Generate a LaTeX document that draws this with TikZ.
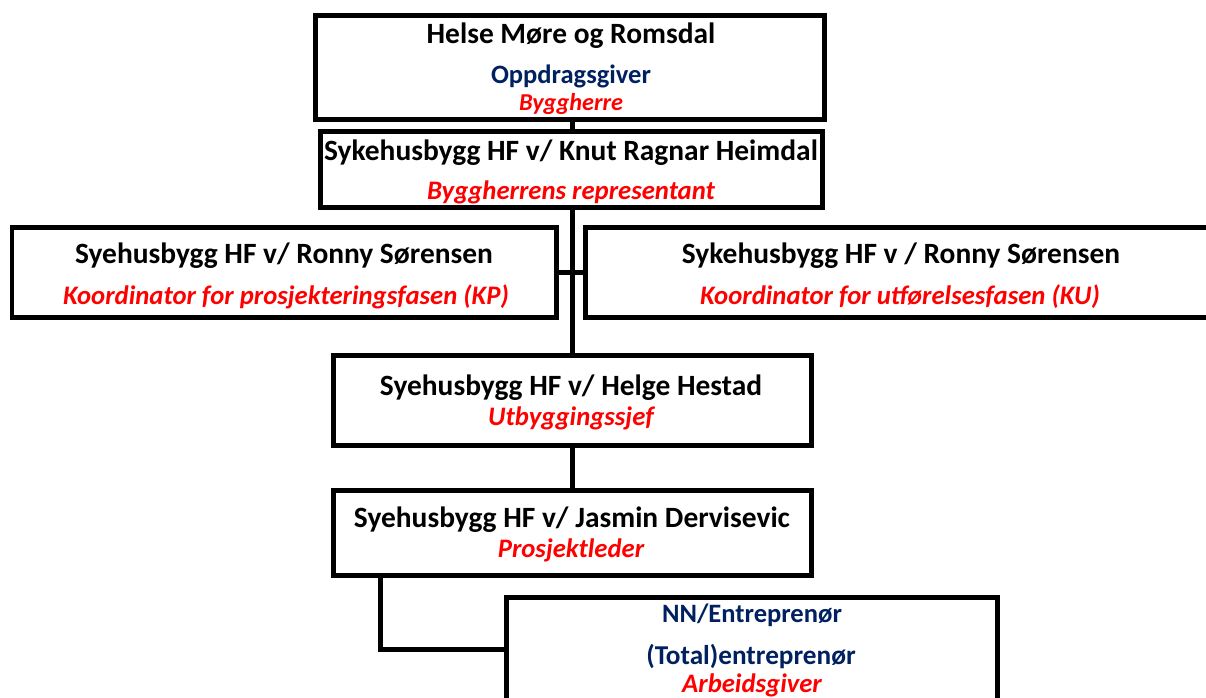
\documentclass[tikz,border=0pt]{standalone}
\usepackage{fontspec}
\setmainfont{Carlito}
\begin{document}
\begin{tikzpicture}[x=0.02cm,y=-0.02cm]
    % Define colors
    \definecolor{navytext}{RGB}{0,32,96}
    \definecolor{roletext}{RGB}{255,0,0}

    % Styles
    \tikzset{
        orgbox/.style 2 args={draw, line width=0.1cm, minimum width={#1*0.02cm}, minimum height={#2*0.02cm}, inner sep=0pt, outer sep=0pt},
        who/.style={font=\bfseries\fontsize{16.75}{16.75}\selectfont, anchor=base, inner sep=0pt},
        client/.style={font=\bfseries\fontsize{15.1}{15.1}\selectfont, text=navytext, anchor=base, inner sep=0pt},
        role/.style={font=\bfseries\itshape\fontsize{15.2}{15.2}\selectfont, text=roletext, anchor=base, inner sep=0pt},
        link/.style={line width=0.1cm}
    }

    \useasboundingbox (0,0) rectangle (1206,697);

    % Boxes
    \node[orgbox={509}{104}] (owner) at (569.5,67) {};
    \node[orgbox={502}{76}] (rep) at (571,169) {};
    \node[orgbox={544}{90}] (kp) at (284,272) {};
    \node[orgbox={635}{90}] (ku) at (902.5,272) {};
    \node[orgbox={478}{90}] (chief) at (572,400) {};
    \node[orgbox={478}{85}] (lead) at (572,532.5) {};
    \node[orgbox={491}{104}] (contractor) at (751.5,649) {};

    % Texts
    \node[who] (owner-name) at (571,43) {Helse Møre og Romsdal};
    \node[client] (owner-client) at (571,83) {Oppdragsgiver};
    \node[role, font=\bfseries\itshape\fontsize{13.8}{13.8}\selectfont] (owner-role) at (571,110) {Byggherre};

    \node[who] (rep-name) at (571,160) {Sykehusbygg HF v/ Knut Ragnar Heimdal};
    \node[role] (rep-role) at (571,199) {Byggherrens representant};

    \node[who] (kp-name) at (284,263) {Syehusbygg HF v/ Ronny Sørensen};
    \node[role] (kp-role) at (286,304) {Koordinator for prosjekteringsfasen (KP)};

    \node[who] (ku-name) at (901,263) {Sykehusbygg HF v / Ronny Sørensen};
    \node[role] (ku-role) at (900,304) {Koordinator for utførelsesfasen (KU)};

    \node[who] (chief-name) at (571,395) {Syehusbygg HF v/ Helge Hestad};
    \node[role] (chief-role) at (571,425) {Utbyggingssjef};

    \node[who] (lead-name) at (572,527) {Syehusbygg HF v/ Jasmin Dervisevic};
    \node[role] (lead-role) at (571,557) {Prosjektleder};

    \node[client] (contractor-name) at (752,622) {NN/Entreprenør};
    \node[client, font=\bfseries\fontsize{15.5}{15.5}\selectfont] (contractor-client) at (751,664) {(Total)entreprenør};
    \node[role] (contractor-role) at (752,692) {Arbeidsgiver};

    % Connectors
    \coordinate (spine) at (572,0);
    \coordinate (elbow) at (380,0);
    \draw[link] (spine |- owner.south) -- (spine |- rep.north);
    \draw[link] (spine |- rep.south) -- (spine |- chief.north);
    \draw[link] (kp.east) -- (ku.west);
    \draw[link] (spine |- chief.south) -- (spine |- lead.north);
    \draw[link] (elbow |- lead.south) |- (contractor.west);
\end{tikzpicture}
\end{document}
